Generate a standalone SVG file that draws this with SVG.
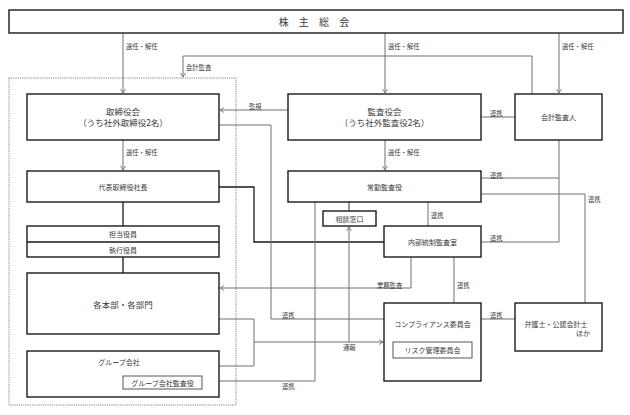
<svg xmlns="http://www.w3.org/2000/svg" width="630" height="415" viewBox="0 0 630 415">
<defs>
<marker id="ar" markerWidth="6" markerHeight="6" refX="5" refY="3" orient="auto" markerUnits="userSpaceOnUse">
<path d="M1,0.5 L5,3 L1,5.5" fill="none" stroke="#666" stroke-width="0.8"/>
</marker>
<style>
.box{fill:#fff;stroke:#1a1a1a;stroke-width:1.4}
.ibox{fill:#fff;stroke:#444;stroke-width:0.9}
.t{font-family:"Noto Sans CJK JP","Noto Sans CJK SC",sans-serif;fill:#3a3a3a;text-anchor:middle;dominant-baseline:central}
.s7{font-size:7px}
.s8{font-size:8.5px}
.lb{font-family:"Noto Sans CJK JP","Noto Sans CJK SC",sans-serif;fill:#3a3a3a;font-size:6.3px;dominant-baseline:central}
.g{fill:none;stroke:#707070;stroke-width:1}
.k{fill:none;stroke:#1a1a1a;stroke-width:1.3}
.kt{fill:none;stroke:#1a1a1a;stroke-width:0.9}
.dash{fill:none;stroke:#666;stroke-width:0.8;stroke-dasharray:1.2,1}
</style>
</defs>
<rect width="630" height="415" fill="#fff"/>

<g id="connectors">
<path class="g" d="M123,33 V93" marker-end="url(#ar)"/>
<path class="g" d="M385,33 V93" marker-end="url(#ar)"/>
<path class="g" d="M559,33 V93" marker-end="url(#ar)"/>
<path class="g" d="M532,94 V56 H183 V77" marker-end="url(#ar)"/>
<path class="g" d="M123,140 V170" marker-end="url(#ar)"/>
<path class="g" d="M385,140 V170" marker-end="url(#ar)"/>
<path class="g" d="M288,110 H220" marker-end="url(#ar)"/>
<path class="g" d="M481,117 H515"/>
<path class="g" d="M481,178 H559"/>
<path class="g" d="M559,140 V242 H481"/>
<path class="g" d="M481,194 H585 V303"/>
<path class="kt" d="M349,202 V211"/>
<path class="g" d="M428,202 V226"/>
<path class="k" d="M219,187 H254 V242 H384"/>
<path class="g" d="M219,125 H271 V319 H384"/>
<path class="k" d="M123,202 V226"/>
<path class="k" d="M123,257 V273"/>
<path class="g" d="M411,257 V288 H220" marker-end="url(#ar)"/>
<path class="g" d="M454,257 V303"/>
<path class="g" d="M219,319 H254 V366 H219"/>
<path class="g" d="M254,342 H383" marker-end="url(#ar)"/>
<path class="g" d="M349,342 V227" marker-end="url(#ar)"/>
<path class="g" d="M315,202 V381 H202"/>
<path class="g" d="M481,319 H515"/>
<text class="lb" x="126" y="46">選任・解任</text>
<text class="lb" x="388" y="46">選任・解任</text>
<text class="lb" x="562" y="46">選任・解任</text>
<text class="lb" x="186" y="67">会計監査</text>
<text class="lb" x="126" y="152">選任・解任</text>
<text class="lb" x="388" y="152">選任・解任</text>
<text class="lb" x="249" y="106">監視</text>
<text class="lb" x="490" y="113">連携</text>
<text class="lb" x="490" y="175">連携</text>
<text class="lb" x="588" y="199">連携</text>
<text class="lb" x="431" y="215">連携</text>
<text class="lb" x="490" y="238">連携</text>
<text class="lb" x="377" y="285">業務監査</text>
<text class="lb" x="457" y="285">連携</text>
<text class="lb" x="282" y="315">連携</text>
<text class="lb" x="490" y="315">連携</text>
<text class="lb" x="343" y="347">通報</text>
<text class="lb" x="282" y="386">連携</text>
</g>

<g id="shareholders">
<rect class="box" x="9" y="10" width="614" height="23"/>
<text class="t" x="316" y="21.5" style="font-size:10px;letter-spacing:4px">株 主 総 会</text>
</g>

<g id="group-frame">
<rect class="dash" x="9" y="78" width="227" height="327"/>
</g>

<g id="board">
<rect class="box" x="27" y="94" width="192" height="46"/>
<text class="t s8" x="123" y="111">取締役会</text>
<text class="t s8" x="123" y="122">（うち社外取締役2名）</text>
</g>

<g id="president">
<rect class="box" x="27" y="171" width="192" height="31"/>
<text class="t s7" x="123" y="187">代表取締役社長</text>
</g>

<g id="officers">
<rect class="box" x="27" y="226" width="192" height="31"/>
<line class="k" x1="27" y1="242" x2="219" y2="242"/>
<text class="t s7" x="123" y="234">担当役員</text>
<text class="t s7" x="123" y="249.5">執行役員</text>
</g>

<g id="divisions">
<rect class="box" x="27" y="273" width="192" height="61"/>
<text class="t s8" x="123" y="304">各本部・各部門</text>
</g>

<g id="group-companies">
<rect class="box" x="27" y="351" width="192" height="46"/>
<text class="t s7" x="119" y="362">グループ会社</text>
<rect class="ibox" x="123" y="376" width="79" height="13"/>
<text class="t s7" x="162.5" y="382.5">グループ会社監査役</text>
</g>

<g id="audit-board">
<rect class="box" x="288" y="94" width="193" height="46"/>
<text class="t s8" x="384.5" y="111">監査役会</text>
<text class="t s8" x="384.5" y="122">（うち社外監査役2名）</text>
</g>

<g id="accounting-auditor">
<rect class="box" x="515" y="94" width="87" height="46"/>
<text class="t s7" x="558.5" y="117">会計監査人</text>
</g>

<g id="fulltime-auditor">
<rect class="box" x="288" y="171" width="193" height="31"/>
<text class="t s7" x="384.5" y="187">常勤監査役</text>
</g>

<g id="consultation">
<rect class="box" x="323" y="211" width="53" height="15"/>
<text class="t s7" x="349.5" y="218.5">相談窓口</text>
</g>

<g id="internal-audit">
<rect class="box" x="384" y="226" width="97" height="31"/>
<text class="t s7" x="432.5" y="242">内部統制監査室</text>
</g>

<g id="compliance">
<rect class="box" x="384" y="303" width="97" height="78"/>
<text class="t s7" x="432.5" y="324">コンプライアンス委員会</text>
<rect class="ibox" x="393" y="342" width="79" height="16"/>
<text class="t s7" x="432.5" y="350">リスク管理委員会</text>
</g>

<g id="lawyers">
<rect class="box" x="515" y="303" width="87" height="48"/>
<text class="t s7" x="556" y="324">弁護士・公認会計士</text>
<text class="t s7" x="590" y="333" style="text-anchor:end">ほか</text>
</g>
</svg>
